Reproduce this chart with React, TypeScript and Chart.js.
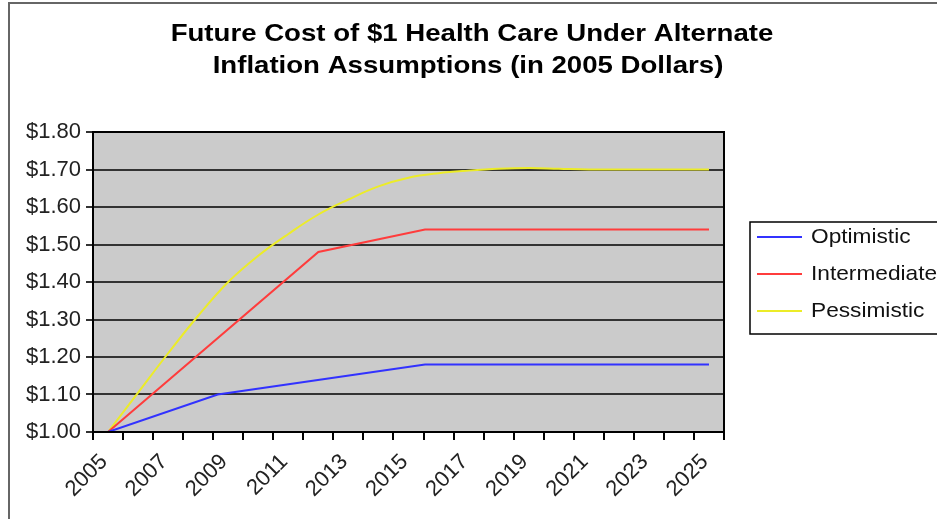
import React, { useEffect, useRef } from "react";
import { Chart, registerables } from "chart.js";

Chart.register(...registerables);

const TITLE_LINES = ["Future Cost of $1 Health Care Under Alternate", "Inflation Assumptions (in 2005 Dollars)"];
const YEARS = [2005, 2006, 2007, 2008, 2009, 2010, 2011, 2012, 2013, 2014, 2015, 2016, 2017, 2018, 2019, 2020, 2021, 2022, 2023, 2024, 2025];
const SERIES_NAMES = ["Optimistic", "Intermediate", "Pessimistic"];
const SERIES_COLORS = ["#3232ff", "#ff3c3c", "#ecec28"];

const OPTIMISTIC_X = [2005, 2008.65, 2015.55, 2025];
const OPTIMISTIC_Y = [1.0, 1.1, 1.18, 1.18];
const INTERMEDIATE_X = [2005, 2012, 2015.55, 2025];
const INTERMEDIATE_Y = [1.0, 1.48, 1.54, 1.54];
const PESSIMISTIC_Y = [1.0, 1.105, 1.21, 1.31, 1.4, 1.47, 1.528, 1.58, 1.62, 1.655, 1.678, 1.69, 1.697, 1.702, 1.704, 1.702, 1.7, 1.7, 1.7, 1.7, 1.7];

const Y_MIN = 1.0;
const Y_MAX = 1.8;
const Y_STEP = 0.1;

const FONT = "'Liberation Sans', Arial, sans-serif";

function stretchedText(ctx: any, text: string, x: number, y: number, sx: number, align: string) {
  ctx.save();
  ctx.translate(x, y);
  ctx.scale(sx, 1);
  ctx.textAlign = align;
  ctx.fillText(text, 0, 0);
  ctx.restore();
}

const framePlugin = {
  id: "frame",
  beforeDraw(chart: any) {
    const { ctx, chartArea } = chart;
    ctx.save();
    ctx.fillStyle = "#ffffff";
    ctx.fillRect(0, 0, chart.width, chart.height);
    ctx.strokeStyle = "#666666";
    ctx.lineWidth = 2;
    ctx.strokeRect(9, 3, chart.width + 20, chart.height + 20);
    ctx.fillStyle = "#cbcbcb";
    ctx.fillRect(chartArea.left, chartArea.top, chartArea.right - chartArea.left, chartArea.bottom - chartArea.top);
    ctx.restore();
  },
  afterDraw(chart: any) {
    const { ctx, chartArea } = chart;
    ctx.save();
    ctx.strokeStyle = "#000000";
    ctx.lineWidth = 2;
    ctx.strokeRect(chartArea.left, chartArea.top, chartArea.right - chartArea.left, chartArea.bottom - chartArea.top);
    // title
    ctx.fillStyle = "#000000";
    ctx.font = `bold 24px ${FONT}`;
    ctx.textBaseline = "middle";
    stretchedText(ctx, TITLE_LINES[0], 472, 34, 1.15, "center");
    stretchedText(ctx, TITLE_LINES[1], 468, 66, 1.15, "center");
    // legend
    ctx.lineWidth = 1.5;
    ctx.strokeStyle = "#000000";
    ctx.strokeRect(750, 222, 260, 112);
    ctx.font = `21px ${FONT}`;
    const ys = [237, 274, 311];
    chart.data.datasets.forEach((ds: any, i: number) => {
      ctx.strokeStyle = ds.borderColor;
      ctx.lineWidth = 2;
      ctx.beginPath();
      ctx.moveTo(757, ys[i]);
      ctx.lineTo(802, ys[i]);
      ctx.stroke();
      ctx.fillStyle = "#111111";
      stretchedText(ctx, ds.label, 811, ys[i], 1.08, "left");
    });
    ctx.restore();
  },
};

export default function App() {
  const ref = useRef<HTMLCanvasElement | null>(null);
  useEffect(() => {
    document.body.style.margin = "0";
    const canvas = ref.current;
    if (!canvas) return;
    const toPts = (xs: number[], ys: number[]) => xs.map((x, i) => ({ x, y: ys[i] }));
    const chart = new Chart(canvas, {
      type: "line",
      data: {
        labels: YEARS.map(String),
        datasets: [
          { label: SERIES_NAMES[0], data: toPts(OPTIMISTIC_X, OPTIMISTIC_Y), borderColor: SERIES_COLORS[0], backgroundColor: SERIES_COLORS[0], borderWidth: 2, pointRadius: 0, tension: 0, xAxisID: "x2" },
          { label: SERIES_NAMES[1], data: toPts(INTERMEDIATE_X, INTERMEDIATE_Y), borderColor: SERIES_COLORS[1], backgroundColor: SERIES_COLORS[1], borderWidth: 2, pointRadius: 0, tension: 0, xAxisID: "x2" },
          { label: SERIES_NAMES[2], data: toPts(YEARS, PESSIMISTIC_Y), borderColor: SERIES_COLORS[2], backgroundColor: SERIES_COLORS[2], borderWidth: 2, pointRadius: 0, tension: 0.4, xAxisID: "x2" },
        ],
      },
      options: {
        responsive: false,
        animation: false,
        events: [],
        layout: { padding: { top: 132, right: 213, left: 0, bottom: 0 } },
        plugins: { legend: { display: false }, title: { display: false }, tooltip: { enabled: false } },
        scales: {
          x: {
            type: "category",
            offset: true,
            grid: { display: true, drawOnChartArea: false, offset: true, color: "#000000", lineWidth: 2, tickLength: 8 },
            border: { display: true, color: "#000000", width: 2 },
            ticks: {
              autoSkip: false,
              maxRotation: 45,
              minRotation: 45,
              padding: 9,
              labelOffset: -4,
              color: "#222222",
              font: { family: FONT, size: 22 },
              callback: (_v: any, i: number) => (YEARS[i] % 2 === 1 ? String(YEARS[i]) : ""),
            },
            afterFit: (s: any) => { s.height = 519 - 432; },
          },
          x2: {
            type: "linear",
            display: false,
            min: YEARS[0] - 0.5,
            max: YEARS[YEARS.length - 1] + 0.5,
          },
          y: {
            min: Y_MIN,
            max: Y_MAX,
            grid: { color: "#333333", lineWidth: 2, tickLength: 7 },
            border: { display: true, color: "#000000", width: 2 },
            ticks: {
              stepSize: Y_STEP,
              padding: 5,
              color: "#222222",
              font: { family: FONT, size: 22 },
              callback: (v: any) => "$" + Number(v).toFixed(2),
            },
            afterFit: (s: any) => { s.width = 93; },
          },
        },
      },
      plugins: [framePlugin],
    } as any);
    return () => chart.destroy();
  }, []);
  return <canvas ref={ref} width={937} height={519} style={{ display: "block", width: 937, height: 519 }} />;
}
